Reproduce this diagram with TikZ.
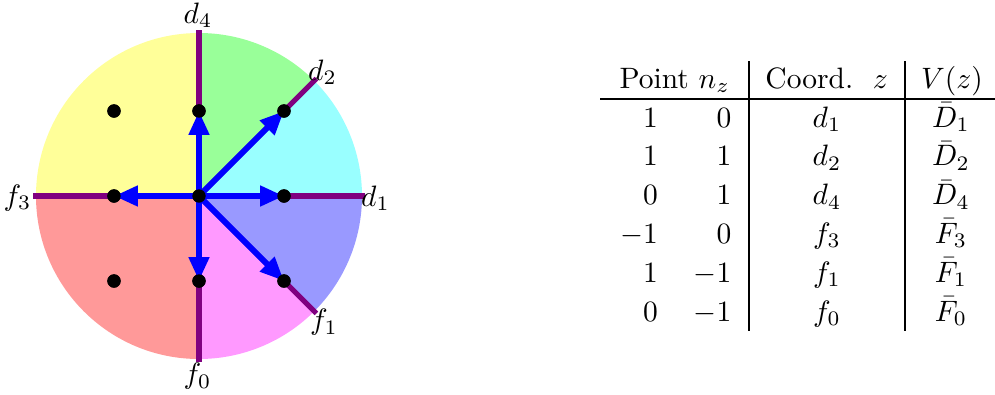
\documentclass[tikz,border=0pt]{standalone}
\usetikzlibrary{arrows.meta}
\newlength\pxl
\setlength\pxl{0.339pt}
\definecolor{secC}{RGB}{153,255,255}
\definecolor{secG}{RGB}{153,255,153}
\definecolor{secY}{RGB}{255,255,153}
\definecolor{secR}{RGB}{255,153,153}
\definecolor{secM}{RGB}{255,153,255}
\definecolor{secB}{RGB}{153,153,255}
\definecolor{rayV}{RGB}{128,0,128}
\tikzset{
  ray/.style={draw=rayV, line width=1.7pt},
  vec/.style={draw=blue, line width=2pt, -{Triangle[length=8.1pt,width=6.6pt]}},
  lattice/.style={circle, fill=black, inner sep=0pt, minimum size=13.4\pxl},
  lab/.style={inner sep=0pt},
  cell/.style={inner sep=0pt},
  rule/.style={draw=black, line width=0.45pt}
}
\begin{document}
\begin{tikzpicture}[x=\pxl,y=\pxl]
\useasboundingbox (-199,-198) rectangle (796,196);
\coordinate (O) at (0,0);
% sectors
\fill[secC] (O) -- (0:163)   arc[start angle=0,  end angle=45, radius=163] -- cycle;
\fill[secG] (O) -- (45:163)  arc[start angle=45, end angle=90, radius=163] -- cycle;
\fill[secY] (O) -- (90:163)  arc[start angle=90, end angle=180,radius=163] -- cycle;
\fill[secR] (O) -- (180:163) arc[start angle=180,end angle=270,radius=163] -- cycle;
\fill[secM] (O) -- (270:163) arc[start angle=270,end angle=315,radius=163] -- cycle;
\fill[secB] (O) -- (315:163) arc[start angle=315,end angle=360,radius=163] -- cycle;
% ray ends
\coordinate (e1) at (0:166);
\coordinate (e2) at (45:166);
\coordinate (e4) at (90:166);
\coordinate (e3) at (180:166);
\coordinate (e0) at (270:166);
\coordinate (ef) at (315:166);
\foreach \e in {e1,e2,e4,e3,e0,ef} \draw[ray] (O) -- (\e);
% lattice points
\node[lattice] (p00) at (0,0) {};
\node[lattice] (p10) at (85,0) {};
\node[lattice] (p11) at (85,85) {};
\node[lattice] (p01) at (0,85) {};
\node[lattice] (pm11) at (-85,85) {};
\node[lattice] (pm10) at (-85,0) {};
\node[lattice] (pm1m1) at (-85,-85) {};
\node[lattice] (p0m1) at (0,-85) {};
\node[lattice] (p1m1) at (85,-85) {};
% vectors
\foreach \t in {p10,p11,p01,pm10,p0m1,p1m1} \draw[vec] (p00.center) -- (\t.center);
% dots on top of the arrow tips
\foreach \p in {p00,p10,p11,p01,pm11,pm10,pm1m1,p0m1,p1m1}
  \fill (\p.center) circle[radius=6.7];
% labels
\node[lab] (ld4) at (-1,181) {$d_4$};
\node[lab] (ld2) at (123.5,123.5) {$d_2$};
\node[lab] (ld1) at (176.5,-2) {$d_1$};
\node[lab] (lf3) at (-181.5,-2) {$f_3$};
\node[lab] (lf1) at (125,-126.5) {$f_1$};
\node[lab] (lf0) at (-1.5,-180.5) {$f_0$};
% table rules
\coordinate (hl) at (401,97);
\coordinate (hr) at (796,97);
\draw[rule] (hl) -- (hr);
\coordinate (v1t) at (550,135);
\coordinate (v1b) at (550,-135);
\coordinate (v2t) at (706,135);
\coordinate (v2b) at (706,-135);
\draw[rule] (v1t) -- (v1b);
\draw[rule] (v2t) -- (v2b);
% header
\node[cell, anchor=base west] (h1) at (420,107.5) {Point $n_z$};
\node[cell, anchor=base] (h2) at (627.7,107.5) {Coord.\ \ $z$};
\node[cell, anchor=base] (h3) at (753,107.5) {$V(z)$};
% rows
\foreach \y/\a/\b/\c/\d [count=\i] in {
   69/1/0/d_1/\bar D_1,
   30.2/1/1/d_2/\bar D_2,
   -8.6/0/1/d_4/\bar D_4,
   -47.4/-1/0/f_3/\bar F_3,
   -86.2/1/-1/f_1/\bar F_1,
   -125/0/-1/f_0/\bar F_0}{
  \node[cell, anchor=base east] (r\i a) at (459.5,\y) {$\a$};
  \node[cell, anchor=base east] (r\i b) at (533,\y) {$\b$};
  \node[cell, anchor=base] (r\i c) at (628,\y) {$\c$};
  \node[cell, anchor=base] (r\i d) at (752,\y) {$\d$};
}
\end{tikzpicture}
\end{document}
